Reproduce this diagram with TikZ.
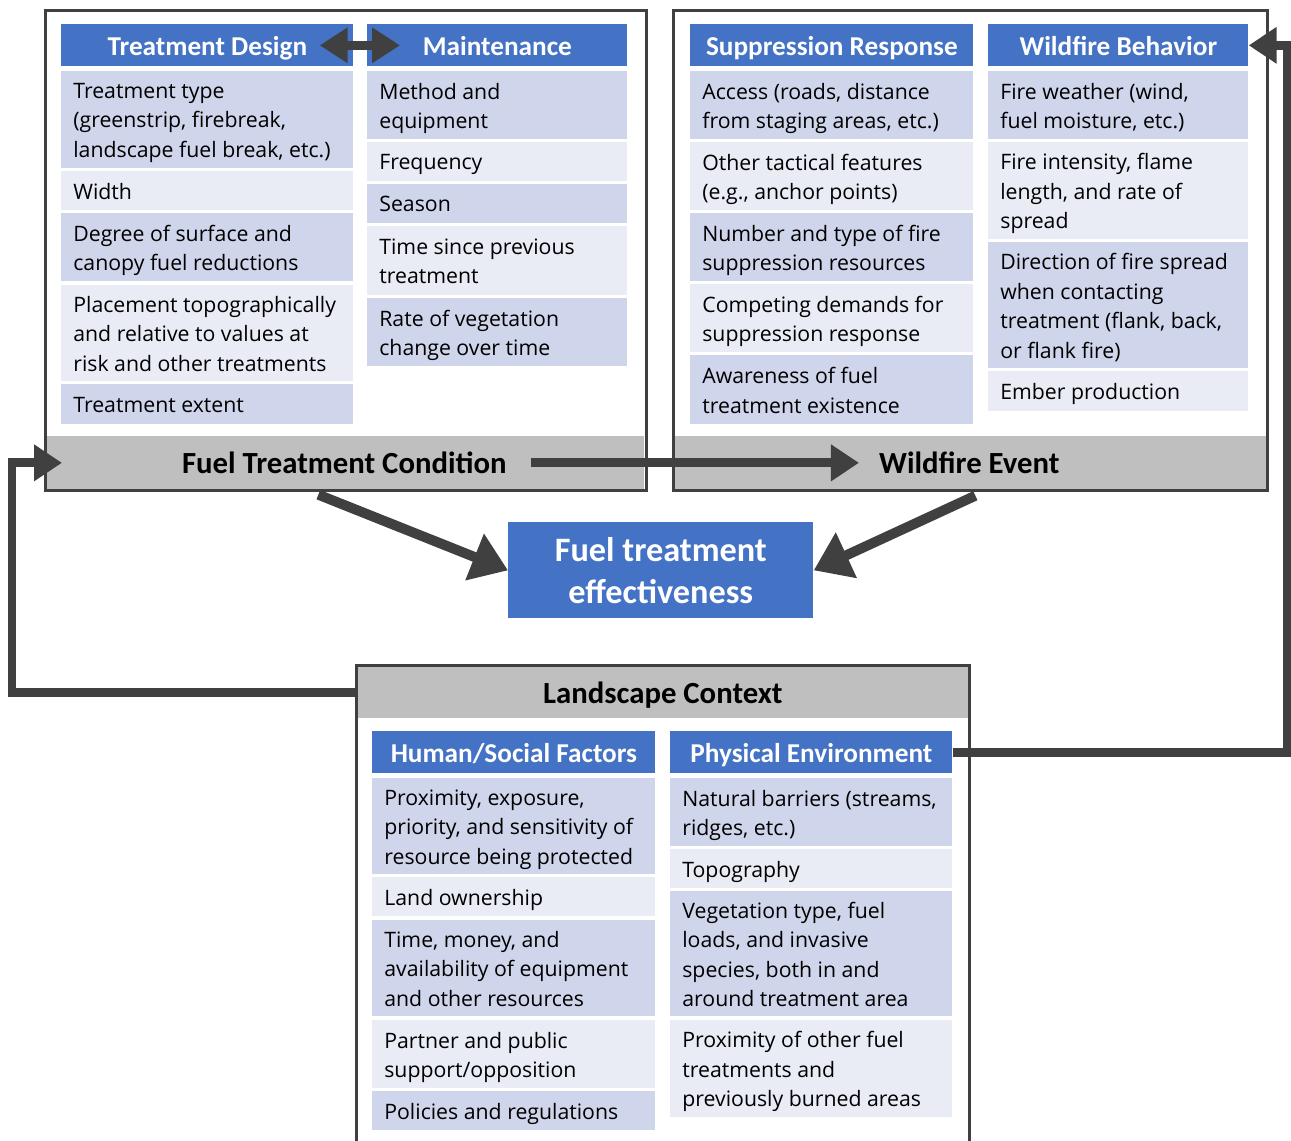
\documentclass[tikz,border=0pt]{standalone}
\usepackage{fontspec}
\setmainfont{Open Sans}
\newfontfamily\calfont{Carlito}
\usetikzlibrary{arrows.meta}

\definecolor{hdrblue}{HTML}{4472C4}
\definecolor{rowdark}{HTML}{CFD5EA}
\definecolor{rowlight}{HTML}{E9EBF5}
\definecolor{bandgray}{HTML}{BFBFBF}
\definecolor{linegray}{HTML}{404040}

\newcommand{\pxu}{0.02cm}
% one table cell: name, x, y, width, height, fill, text
\newcommand{\tcell}[7]{%
  \node[cellbox,fill=#6,minimum width=#4*\pxu,minimum height=#5*\pxu] (#1) at (#2,#3) {};
  \node[celltext] (#1t) at ([yshift=-3*\pxu]#1.west) {#7\rule[-3pt]{0pt}{9pt}};}
% one column header: name, x, width, text
\newcommand{\thead}[5]{%
  \node[head,minimum width=#4*\pxu,minimum height=42*\pxu] (#1) at (#2,#3) {#5};}

\begin{document}
\begin{tikzpicture}[x=0.02cm,y=-0.02cm,
  cellbox/.style={anchor=north west,inner sep=0pt},
  celltext/.style={anchor=west,align=left,inner xsep=0.24cm,inner ysep=0pt,font=\fontsize{12.1}{16.8}\selectfont},
  head/.style={anchor=north west,inner sep=0pt,fill=hdrblue,text=white,text height=12pt,text depth=0pt,
    font=\calfont\bfseries\fontsize{15.5}{18}\selectfont},
  band/.style={anchor=north west,inner sep=0pt,fill=bandgray},
  bandtext/.style={font=\calfont\bfseries\fontsize{17.5}{21}\selectfont},
  panel/.style={draw=linegray,line width=0.06cm},
  flow/.style={draw=linegray,line width=0.18cm,-{Triangle[length=0.56cm,width=0.7cm]}},
  twoway/.style={draw=linegray,line width=0.18cm,{Triangle[length=0.56cm,width=0.68cm]}-{Triangle[length=0.56cm,width=0.68cm]}},
  bigflow/.style={draw=linegray,line width=0.2cm,-{Triangle[length=0.72cm,width=0.96cm]}}]

\useasboundingbox (0,0) rectangle (1291,1141);

% Fuel treatment condition
\node[band,minimum width=600*\pxu,minimum height=53*\pxu] (ftcband) at (44,436) {};
\node[bandtext] (ftclabel) at (ftcband) {Fuel Treatment Condition};

\thead{tdhead}{61}{24}{292}{Treatment Design}
\tcell{td1}{61}{71}{292}{97}{rowdark}{Treatment type\\(greenstrip, firebreak,\\landscape fuel break, etc.)}
\tcell{td2}{61}{171}{292}{39}{rowlight}{Width}
\tcell{td3}{61}{213}{292}{68}{rowdark}{Degree of surface and\\canopy fuel reductions}
\tcell{td4}{61}{285}{292}{96}{rowlight}{Placement topographically\\and relative to values at\\risk and other treatments}
\tcell{td5}{61}{384}{292}{40}{rowdark}{Treatment extent}

\thead{mnhead}{367}{24}{260}{Maintenance}
\tcell{mn1}{367}{71}{260}{68}{rowdark}{Method and\\equipment}
\tcell{mn2}{367}{142}{260}{39}{rowlight}{Frequency}
\tcell{mn3}{367}{184}{260}{39}{rowdark}{Season}
\tcell{mn4}{367}{226}{260}{69}{rowlight}{Time since previous\\treatment}
\tcell{mn5}{367}{298}{260}{68}{rowdark}{Rate of vegetation\\change over time}

\node[panel,anchor=north west,inner sep=0pt,minimum width=601*\pxu,minimum height=480*\pxu] (ftc) at (44,9) {};

% Wildfire event
\node[band,minimum width=594*\pxu,minimum height=53*\pxu] (wfband) at (672,436) {};
\node[bandtext] (wflabel) at (wfband) {Wildfire Event};

\thead{srhead}{690}{24}{283}{Suppression Response}
\tcell{sr1}{690}{71}{283}{68}{rowdark}{Access (roads, distance\\from staging areas, etc.)}
\tcell{sr2}{690}{142}{283}{68}{rowlight}{Other tactical features\\(e.g., anchor points)}
\tcell{sr3}{690}{213}{283}{68}{rowdark}{Number and type of fire\\suppression resources}
\tcell{sr4}{690}{284}{283}{68}{rowlight}{Competing demands for\\suppression response}
\tcell{sr5}{690}{355}{283}{69}{rowdark}{Awareness of fuel\\treatment existence}

\thead{wbhead}{988}{24}{260}{Wildfire Behavior}
\tcell{wb1}{988}{71}{260}{68}{rowdark}{Fire weather (wind,\\fuel moisture, etc.)}
\tcell{wb2}{988}{142}{260}{97}{rowlight}{Fire intensity, flame\\length, and rate of\\spread}
\tcell{wb3}{988}{242}{260}{126}{rowdark}{Direction of fire spread\\when contacting\\treatment (flank, back,\\or flank fire)}
\tcell{wb4}{988}{371}{260}{40}{rowlight}{Ember production}

\node[panel,anchor=north west,inner sep=0pt,minimum width=594*\pxu,minimum height=480*\pxu] (wf) at (672,9) {};

% Effectiveness
\node[anchor=north west,fill=hdrblue,text=white,align=center,minimum width=305*\pxu,minimum height=96*\pxu,
  font=\calfont\bfseries\fontsize{19.5}{23.8}\selectfont] (eff) at (508,522) {Fuel treatment\\effectiveness};

% Landscape context
\node[band,minimum width=611*\pxu,minimum height=51*\pxu] (lcband) at (357,667) {};
\node[bandtext] (lclabel) at ([yshift=-2*\pxu]lcband) {Landscape Context};

\thead{hshead}{372}{731}{283}{Human/Social Factors}
\tcell{hs1}{372}{778}{283}{96}{rowdark}{Proximity, exposure,\\priority, and sensitivity of\\resource being protected}
\tcell{hs2}{372}{877}{283}{39}{rowlight}{Land ownership}
\tcell{hs3}{372}{920}{283}{96}{rowdark}{Time, money, and\\availability of equipment\\and other resources}
\tcell{hs4}{372}{1020}{283}{68}{rowlight}{Partner and public\\support/opposition}
\tcell{hs5}{372}{1091}{283}{39}{rowdark}{Policies and regulations}

\thead{pehead}{670}{731}{282}{Physical Environment}
\tcell{pe1}{670}{778}{282}{68}{rowdark}{Natural barriers (streams,\\ridges, etc.)}
\tcell{pe2}{670}{849}{282}{39}{rowlight}{Topography}
\tcell{pe3}{670}{891}{282}{125}{rowdark}{Vegetation type, fuel\\loads, and invasive\\species, both in and\\around treatment area}
\tcell{pe4}{670}{1020}{282}{97}{rowlight}{Proximity of other fuel\\treatments and\\previously burned areas}

\draw[panel] (356,1141) |- (969,665) -- (969,1141);

% Arrows
\draw[twoway] ([xshift=-34*\pxu]tdhead.east) -- ([xshift=33*\pxu]mnhead.west);
\draw[flow] ([xshift=18*\pxu]ftclabel.east) -- ([xshift=-14*\pxu]wflabel.west);
\draw[bigflow] ([xshift=-26*\pxu,yshift=-5*\pxu]ftcband.south) -- (eff.west);
\draw[bigflow] ([xshift=6*\pxu,yshift=-6*\pxu]wfband.south) -- (eff.east);

\coordinate (leftrail) at (12,600);
\coordinate (rightrail) at (1287,400);
\draw[flow] (lcband.west) -| (leftrail) |- ([xshift=18*\pxu]ftcband.west);
\draw[flow] (pehead.east) -| (rightrail) |- (wbhead.east);

\end{tikzpicture}
\end{document}
